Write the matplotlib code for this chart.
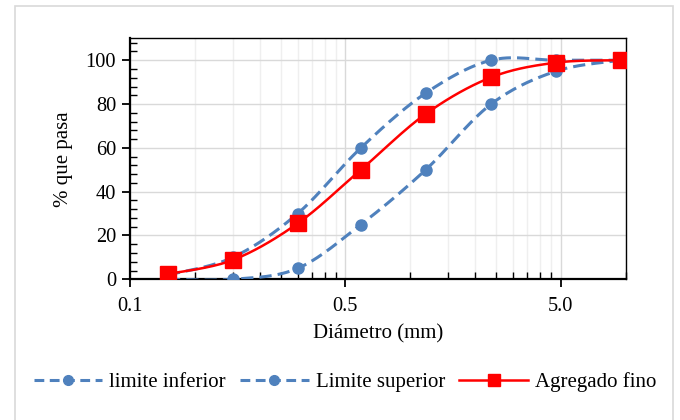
import numpy as np
import matplotlib
matplotlib.use('Agg')
import matplotlib.pyplot as plt
from matplotlib.ticker import FixedLocator, FixedFormatter, LogLocator, NullFormatter
from matplotlib.lines import Line2D
from matplotlib.patches import Rectangle

plt.rcParams['font.family'] = ['Liberation Serif', 'DejaVu Serif']

# tamices (mm) y % que pasa
diametro = [0.15, 0.3, 0.6, 1.18, 2.36, 4.75, 9.5, 19.0]
lim_inferior = [0, 0, 5, 25, 50, 80, 95, 100]
lim_superior = [2, 10, 30, 60, 85, 100, 100, 100]
agregado_fino = [2.4, 8.8, 25.5, 50.0, 75.5, 92.2, 98.9, 100]

xtick_pos = [0.1, 1, 10]
xtick_lab = ['0.1', '0.5', '5.0']

BLUE = '#4F81BD'
RED = '#FF0000'


def suavizar(x, y, n=30):
    # curva suavizada tipo Excel (bezier, catmull-rom) en espacio log-x
    u = np.log10(np.asarray(x, float))
    v = np.asarray(y, float)
    P = np.column_stack([u, v])
    Pe = np.vstack([P[0], P, P[-1]])
    out = []
    t = np.linspace(0, 1, n)[:, None]
    for i in range(len(P) - 1):
        p0 = Pe[i + 1]
        p3 = Pe[i + 2]
        c1 = p0 + (Pe[i + 2] - Pe[i]) / 6
        c2 = p3 - (Pe[i + 3] - Pe[i + 1]) / 6
        seg = ((1 - t) ** 3) * p0 + 3 * ((1 - t) ** 2) * t * c1 + 3 * (1 - t) * t ** 2 * c2 + t ** 3 * p3
        out.append(seg if i == 0 else seg[1:])
    out = np.vstack(out)
    return 10 ** out[:, 0], out[:, 1]


fig = plt.figure(figsize=(6.8, 4.2), dpi=100)
ax = fig.add_axes([130 / 680, 1 - 279.3 / 420, (625.7 - 130) / 680, (279.3 - 38.3) / 420])

# marco del grafico
fig.patches.append(Rectangle((14.5 / 680, -0.02), (672.7 - 14.5) / 680, 1 - 6.5 / 420 + 0.02,
                             transform=fig.transFigure, fill=False, edgecolor='#D9D9D9', lw=1.2))

ax.set_xscale('log')
ax.set_xlim(0.1, 20)
ax.set_ylim(0, 110)

ax.xaxis.set_major_locator(FixedLocator(xtick_pos))
ax.xaxis.set_major_formatter(FixedFormatter(xtick_lab))
ax.xaxis.set_minor_locator(LogLocator(base=10, subs=np.arange(2, 10)))
ax.xaxis.set_minor_formatter(NullFormatter())
ax.set_yticks(np.arange(0, 101, 20))
ax.set_yticks(np.arange(0, 109, 4), minor=True)

ax.grid(True, which='major', color='#D9D9D9', lw=1.0)
ax.grid(True, which='minor', axis='x', color='#EFEFEF', lw=1.0)
ax.set_axisbelow(True)

for s in ax.spines.values():
    s.set_color('black')
    s.set_linewidth(1.0)
ax.spines['left'].set_linewidth(1.6)
ax.spines['bottom'].set_linewidth(1.6)

ax.tick_params(which='major', direction='out', length=6, width=1.3, labelsize=14.7)
ax.tick_params(axis='x', which='major', pad=7)
ax.tick_params(axis='y', which='major', pad=4)
ax.tick_params(which='minor', direction='in', length=5, width=1.0)

xs, ys = suavizar(diametro, lim_inferior)
ax.plot(xs, ys, color=BLUE, lw=2.2, dashes=(4, 2), zorder=3)
ax.plot(diametro, lim_inferior, 'o', color=BLUE, ms=8, zorder=4)

xs, ys = suavizar(diametro, lim_superior)
ax.plot(xs, ys, color=BLUE, lw=2.2, dashes=(4, 2), zorder=3)
ax.plot(diametro, lim_superior, 'o', color=BLUE, ms=8, zorder=4)

xs, ys = suavizar(diametro, agregado_fino)
ax.plot(xs, ys, color=RED, lw=1.8, zorder=5)
ax.plot(diametro, agregado_fino, 's', color=RED, ms=11, zorder=6)

ax.set_xlabel('Diámetro (mm)', fontsize=15, labelpad=6)
ax.set_ylabel('% que pasa', fontsize=15, labelpad=9)

handles = [
    Line2D([], [], color=BLUE, lw=2.2, dashes=(3.2, 1.8), marker='o', ms=7),
    Line2D([], [], color=BLUE, lw=2.2, dashes=(3.2, 1.8), marker='o', ms=7),
    Line2D([], [], color=RED, lw=1.8, marker='s', ms=9),
]
fig.legend(handles, ['limite inferior', 'Limite superior', 'Agregado fino'],
           loc='center', bbox_to_anchor=(345 / 680, 1 - 382 / 420), ncol=3, frameon=False,
           fontsize=15, handlelength=3.3, handletextpad=0.34, columnspacing=0.67,
           borderpad=0, borderaxespad=0)

fig.savefig('out.png', dpi=100)
